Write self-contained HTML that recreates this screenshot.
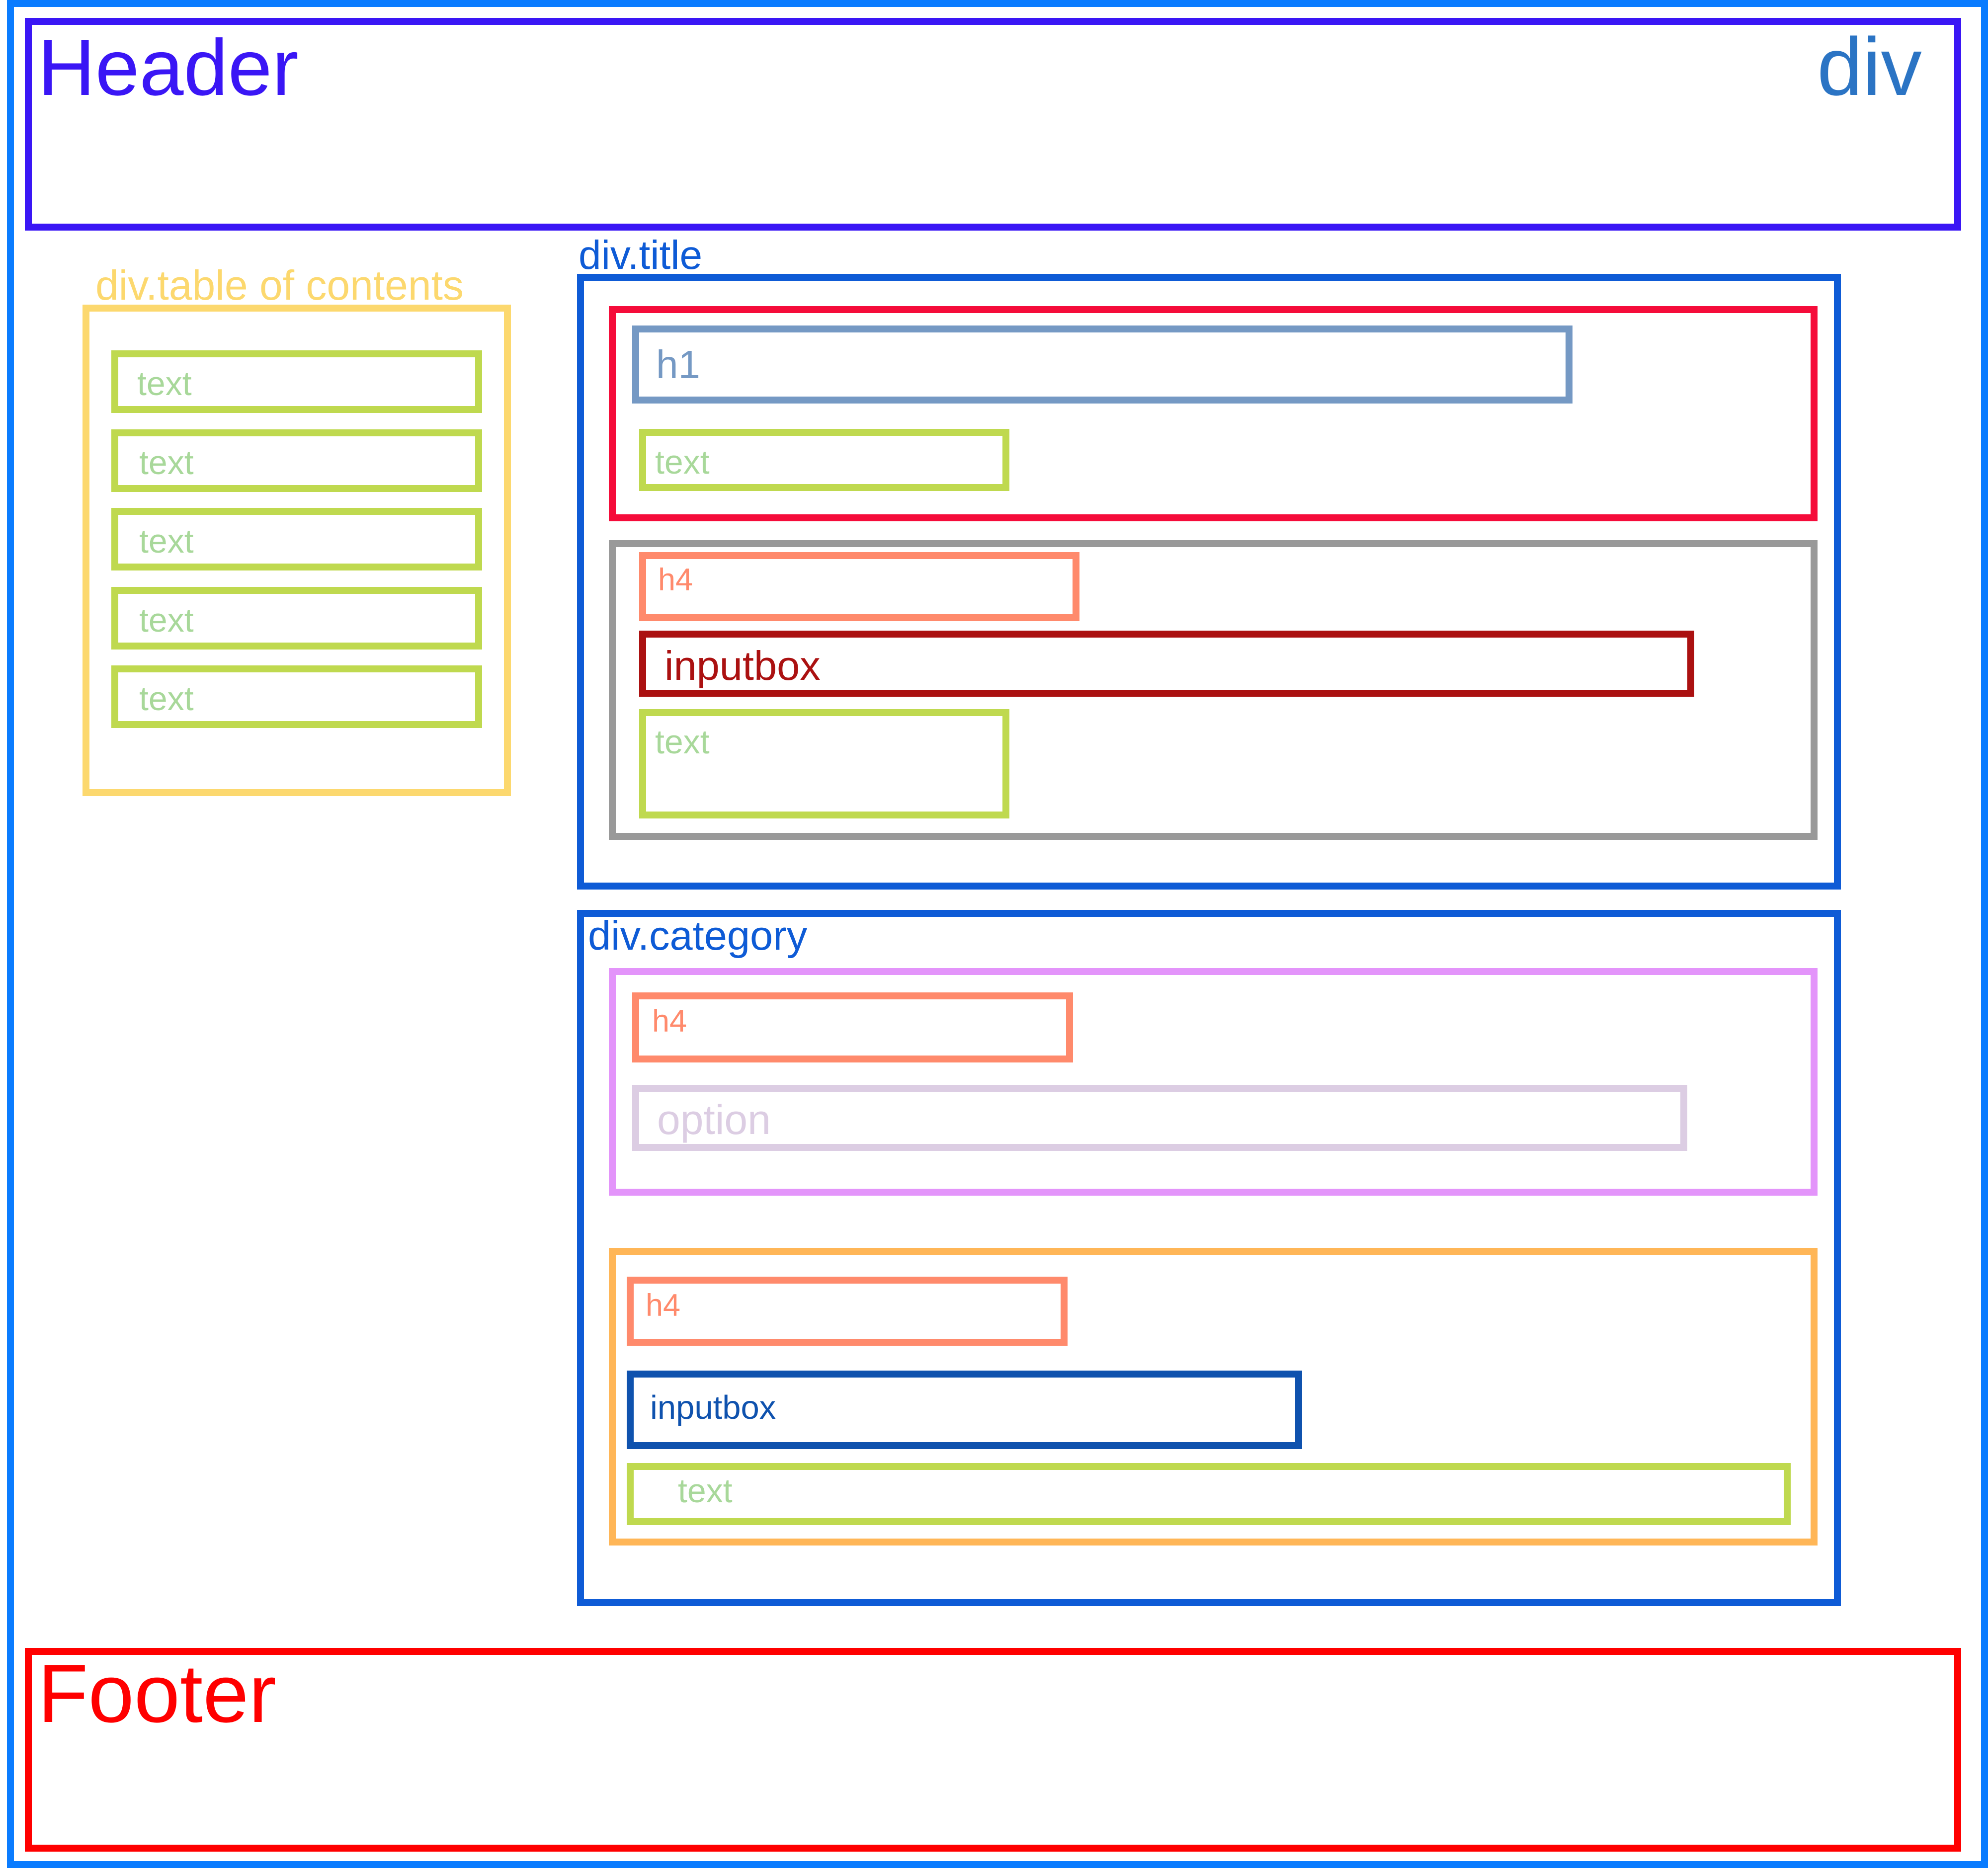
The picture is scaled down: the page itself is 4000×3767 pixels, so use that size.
<!DOCTYPE html>
<html><head><meta charset="utf-8"><style>
html,body{margin:0;padding:0;background:#fff;}
svg{display:block;}
text{font-family:"Liberation Sans",Arial,sans-serif;}
</style></head><body>
<svg width="4000" height="3767" viewBox="0 0 4000 3767" xmlns="http://www.w3.org/2000/svg">
<rect width="4000" height="3767" fill="#fff"/>
<g fill="none" stroke-width="14">
<rect x="21" y="7" width="3972" height="3745" stroke="#0a7cff"/>
<rect x="57" y="43" width="3882" height="414" stroke="#3a16f5"/>
<rect x="173" y="620" width="848" height="975" stroke="#fcd86e"/>
<g stroke="#bfd94f">
<rect x="231" y="712" width="732" height="112"/>
<rect x="231" y="871" width="732" height="112"/>
<rect x="231" y="1029" width="732" height="112"/>
<rect x="231" y="1188" width="732" height="112"/>
<rect x="231" y="1346" width="732" height="112"/>
</g>
<rect x="1168" y="558" width="2529" height="1225" stroke="#0e5bd6"/>
<rect x="1232" y="623" width="2418" height="419" stroke="#f50c3a"/>
<rect x="1279" y="662" width="1878" height="143" stroke="#7599c4"/>
<rect x="1293" y="870" width="731" height="111" stroke="#bfd94f"/>
<rect x="1232" y="1094" width="2418" height="589" stroke="#999999"/>
<rect x="1293" y="1118" width="872" height="125" stroke="#ff8a6c"/>
<rect x="1293" y="1276" width="2109" height="119" stroke="#ab1111"/>
<rect x="1293" y="1434" width="731" height="206" stroke="#bfd94f"/>
<rect x="1168" y="1838" width="2529" height="1387" stroke="#0e5bd6"/>
<rect x="1232" y="1955" width="2418" height="444" stroke="#e394fa"/>
<rect x="1279" y="2004" width="873" height="127" stroke="#ff8a6c"/>
<rect x="1279" y="2190" width="2109" height="119" stroke="#dccde3"/>
<rect x="1232" y="2518" width="2418" height="585" stroke="#ffb657"/>
<rect x="1268" y="2576" width="873" height="125" stroke="#ff8a6c"/>
<rect x="1268" y="2765" width="1345" height="144" stroke="#0f52ae"/>
<rect x="1268" y="2951" width="2328" height="111" stroke="#bfd94f"/>
<rect x="57" y="3323" width="3882" height="396" stroke="#ff0000"/>
</g>
<text x="76" y="191" font-size="160" fill="#3a16f5">Header</text>
<text x="3656" y="191" font-size="165" fill="#2b74c4">div</text>
<text x="192" y="603" font-size="84" fill="#fcd86e">div.table of contents</text>
<g font-size="68" fill="#a8d89a">
<text x="276" y="795">text</text>
<text x="280" y="954">text</text>
<text x="280" y="1112">text</text>
<text x="280" y="1271">text</text>
<text x="280" y="1429">text</text>
<text x="1318" y="953">text</text>
<text x="1318" y="1516">text</text>
<text x="1364" y="3023">text</text>
</g>
<text x="1164" y="541" font-size="82" fill="#0e5bd6">div.title</text>
<text x="1320" y="761" font-size="80" fill="#7599c4">h1</text>
<text x="1324" y="1188" font-size="63" fill="#ff8a6c">h4</text>
<text x="1337" y="1368" font-size="83" fill="#ab1111">inputbox</text>
<text x="1183" y="1911" font-size="83" fill="#0e5bd6">div.category</text>
<text x="1312" y="2076" font-size="63" fill="#ff8a6c">h4</text>
<text x="1322" y="2282" font-size="84" fill="#dccde3">option</text>
<text x="1299" y="2648" font-size="63" fill="#ff8a6c">h4</text>
<text x="1308" y="2855" font-size="67" fill="#0f52ae">inputbox</text>
<text x="76" y="3465" font-size="166" fill="#ff0000">Footer</text>
</svg>
</body></html>
